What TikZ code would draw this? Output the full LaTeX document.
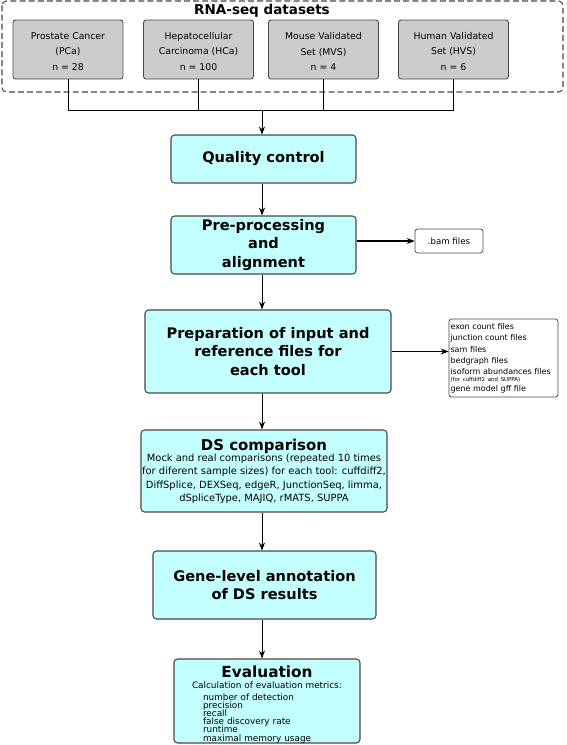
\documentclass[tikz,border=0pt]{standalone}
\usepackage{fontspec}
\setmainfont{DejaVu Sans}
\usetikzlibrary{positioning,arrows.meta}
\definecolor{boxcyan}{HTML}{C4FFFF}
\definecolor{boxgray}{HTML}{CCCCCC}
\definecolor{boxline}{HTML}{474747}
\newcommand{\tightlines}{\lineskiplimit=-10pt\relax}

\begin{document}
\begin{tikzpicture}[x=0.02cm,y=-0.02cm,
		databox/.style={draw=boxline,fill=boxgray,rounded corners=1.5pt,line width=0.5pt,minimum width=2.2cm,minimum height=1.18cm,inner sep=0pt,align=center,font=\fontsize{5.3}{8.8}\selectfont},
		stepbox/.style={draw=boxline,fill=boxcyan,rounded corners=2pt,line width=0.6pt,inner sep=0pt,align=center,font=\fontsize{8.3}{10.5}\selectfont\bfseries},
		filebox/.style={draw=boxline,fill=white,rounded corners=1.5pt,line width=0.4pt,inner sep=0pt,align=center,font=\fontsize{4.9}{6}\selectfont},
		link/.style={-{Stealth[length=4.5pt,width=3.4pt]},line width=0.55pt},
		outlink/.style={-{Stealth[length=4.5pt,width=3.4pt]},line width=0.9pt}]
		\useasboundingbox (0,0) rectangle (566,745);

		\draw[boxline,dashed,dash pattern=on 3.4pt off 1.8pt,rounded corners=2.5pt,line width=0.6pt] (2,1) rectangle (563,92);
		\node[font=\fontsize{7.7}{9}\selectfont\bfseries] (title) at (262,10.5) {RNA-seq datasets};

		\node[databox] (pca) at (68,49.5) {\rule{0pt}{6.3pt}Prostate Cancer\\(PCa)\\n = 28};
		\node[databox] (hca) at (198.5,49.5) {\rule{0pt}{6.3pt}Hepatocellular\\Carcinoma (HCa)\\n = 100};
		\node[databox] (mvs) at (323.5,49.5) {\rule{0pt}{6.3pt}Mouse Validated\\Set (MVS)\\n = 4};
		\node[databox] (hvs) at (453.5,49.5) {\rule{0pt}{6.3pt}Human Validated\\Set (HVS)\\n = 6};

		\coordinate (join) at (262,110);
		\draw[line width=0.55pt] (pca.south) |- (join);
		\draw[line width=0.55pt] (hca.south) |- (join);
		\draw[line width=0.55pt] (mvs.south) |- (join);
		\draw[line width=0.55pt] (hvs.south) |- (join);

		\node[stepbox,minimum width=3.7cm,minimum height=0.96cm] (qc) at (263.5,159) {Quality control};
		\node[stepbox,minimum width=3.7cm,minimum height=1.16cm] (pre) at (263.5,245) {Pre-processing\\and\\alignment};
		\node[stepbox,minimum width=4.92cm,minimum height=1.66cm] (prep) at (268,351.5) {Preparation of input and\\reference files for\\each tool};
		\node[stepbox,minimum width=4.92cm,minimum height=1.64cm,font=\fontsize{5.65}{7.5}\selectfont\tightlines] (ds) at (264,471) {\fontsize{8.5}{9}\selectfont\bfseries DS comparison\\[-0.9pt]Mock and real comparisons (repeated 10 times\\for diferent sample sizes) for each tool: cuffdiff2,\\DiffSplice, DEXSeq, edgeR, JunctionSeq, limma,\\dSpliceType, MAJIQ, rMATS, SUPPA};
		\node[stepbox,minimum width=4.46cm,minimum height=1.36cm] (gene) at (264.5,585) {Gene-level annotation\\of DS results};
		\node[stepbox,minimum width=3.72cm,minimum height=1.68cm,align=left,text width=3cm,inner xsep=0.36cm,font=\fontsize{5.05}{4.65}\selectfont\tightlines] (eval) at (267,701) {\rule{0pt}{10.5pt}\makebox[\linewidth][c]{\fontsize{8.7}{9}\selectfont\bfseries Evaluation}\\[1.6pt]Calculation of evaluation metrics:\\[2pt]\hspace*{0.22cm}number of detection\\\hspace*{0.22cm}precision\\\hspace*{0.22cm}recall\\\hspace*{0.22cm}false discovery rate\\\hspace*{0.22cm}runtime\\\hspace*{0.22cm}maximal memory usage};

		\node[filebox,minimum width=1.36cm,minimum height=0.48cm] (bam) at (449,241) {.bam files};
		\node[filebox,align=left,text width=2.12cm,inner xsep=0.03cm,minimum height=1.56cm,font=\fontsize{4.55}{6.5}\selectfont] (files) at (503.5,358) {exon count files\\junction count files\\sam files\\bedgraph files\\isoform abundances files\\[-2.6pt]{\fontsize{3.1}{3.5}\selectfont (for cuffdiff2 and SUPPA)}\\[-1.2pt]gene model gff file};

		\draw[link] (join) -- (join |- qc.north);
		\draw[link] (qc.south -| join) -- (pre.north -| join);
		\draw[link] (pre.south -| join) -- (prep.north -| join);
		\draw[link] (prep.south -| join) -- (ds.north -| join);
		\draw[link] (ds.south -| join) -- (gene.north -| join);
		\draw[link] (gene.south -| join) -- (eval.north -| join);
		\draw[outlink] (bam.west -| pre.east) -- (bam.west);
		\draw[outlink] (prep.east) -- (prep.east -| files.west);
	\end{tikzpicture}
\end{document}
